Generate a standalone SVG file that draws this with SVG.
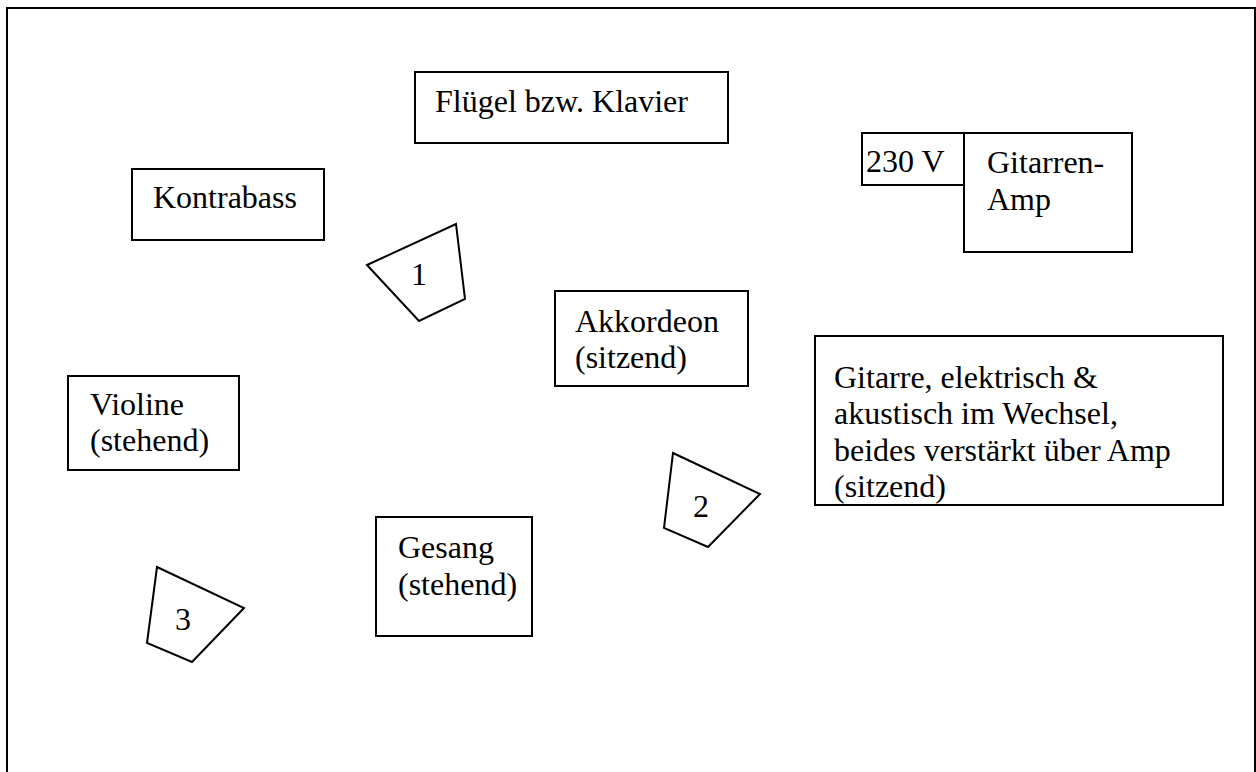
<svg xmlns="http://www.w3.org/2000/svg" width="1256" height="772" viewBox="0 0 1256 772">
<style>
.b{fill:#fff;stroke:#000;stroke-width:2}
.t{font-family:"Liberation Serif","Times New Roman",serif;font-size:32px;fill:#000}
.c{text-anchor:middle}
</style>
<rect width="1256" height="772" fill="#fff"/>
<path d="M7,772 V8 H1255 V772" fill="none" stroke="#000" stroke-width="2"/>
<g id="fluegel"><rect class="b" x="415" y="72" width="313" height="71"/><text class="t" x="435" y="112">Flügel bzw. Klavier</text></g>
<g id="kontrabass"><rect class="b" x="132" y="169" width="192" height="71"/><text class="t" x="153" y="208">Kontrabass</text></g>
<g id="amp230"><rect class="b" x="862" y="133" width="102" height="52"/><text class="t" x="866" y="172">230 V</text></g>
<g id="amp"><rect class="b" x="964" y="133" width="168" height="119"/><text class="t" x="987" y="173">Gitarren-</text><text class="t" x="987" y="210">Amp</text></g>
<g id="monitor1"><polygon class="b" points="367,265 456,224 465,299 419,321"/><text class="t c" x="419" y="285">1</text></g>
<g id="akkordeon"><rect class="b" x="555" y="291" width="193" height="95"/><text class="t" x="575" y="332">Akkordeon</text><text class="t" x="575" y="368">(sitzend)</text></g>
<g id="gitarre"><rect class="b" x="815" y="336" width="408" height="169"/><text class="t" x="834" y="388">Gitarre, elektrisch &amp;</text><text class="t" x="834" y="424">akustisch im Wechsel,</text><text class="t" x="834" y="461">beides verstärkt über Amp</text><text class="t" x="834" y="497">(sitzend)</text></g>
<g id="violine"><rect class="b" x="68" y="376" width="171" height="94"/><text class="t" x="90" y="415">Violine</text><text class="t" x="90" y="451">(stehend)</text></g>
<g id="monitor2"><polygon class="b" points="673,453 760,494 708,547 664,528"/><text class="t c" x="701" y="517">2</text></g>
<g id="gesang"><rect class="b" x="376" y="517" width="156" height="119"/><text class="t" x="398" y="558">Gesang</text><text class="t" x="398" y="595">(stehend)</text></g>
<g id="monitor3"><polygon class="b" points="157,567 244,608 192,662 147,643"/><text class="t c" x="183" y="630">3</text></g>
<g id="connectors"/>
</svg>
